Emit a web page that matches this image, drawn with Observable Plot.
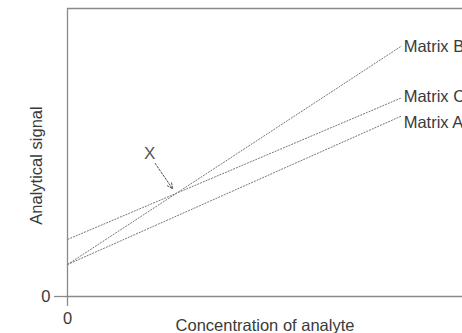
<!DOCTYPE html>
<html>
<head>
<meta charset="utf-8">
<script src="https://cdn.jsdelivr.net/npm/d3@7"></script>
<script src="https://cdn.jsdelivr.net/npm/@observablehq/plot@0.6"></script>
<style>
  html, body { margin: 0; padding: 0; background: #fff; }
  #chart svg { display: block; }
</style>
</head>
<body>
<div id="chart"></div>
<script>
// Data (arbitrary units; axis 0..10 both ways)
const series = ["Matrix B", "Matrix C", "Matrix A"];
const xStart = [0, 0, 0];
const xEnd = [8.46, 8.46, 8.46];
const yStart = [1.11, 1.98, 1.11];
const yEnd = [8.70, 6.90, 6.27];
const labelY = [8.68, 6.94, 6.02];
const xTicks = [0];
const yTicks = [0];
const xTitle = "Concentration of analyte";
const yTitle = "Analytical signal";
const pointerLabel = "X";
const pointerFrom = [2.22, 4.62];
const pointerTo = [2.66, 3.74];
const pointerText = [2.08, 4.96];

const lines = series.map((s, i) => ({
  series: s, x1: xStart[i], y1: yStart[i], x2: xEnd[i], y2: yEnd[i], ly: labelY[i]
}));

const gray = "#8a8a8a";
const textColor = "#3a3a3a";
const fs = 16.5;

const chart = Plot.plot({
  width: 462,
  height: 333,
  marginLeft: 67,
  marginRight: 0,
  marginTop: 8,
  marginBottom: 37,
  style: { fontFamily: "Liberation Sans, Arial, sans-serif", background: "#fff", color: textColor },
  x: { domain: [0, 10] },
  y: { domain: [0, 10] },
  marks: [
    // frame lines
    Plot.ruleY([10], { stroke: gray, strokeWidth: 1.3 }),
    Plot.ruleX([0], { stroke: gray, strokeWidth: 1.3 }),
    Plot.ruleY([0], { stroke: gray, strokeWidth: 1.3 }),
    Plot.axisY({ ticks: yTicks, tickSize: 13, tickPadding: 4, stroke: gray, strokeWidth: 1.3, fontSize: fs, fill: textColor, label: null }),
    Plot.axisX({ ticks: xTicks, tickSize: 10, tickPadding: 6, stroke: gray, strokeWidth: 1.3, fontSize: fs, fill: textColor, label: null }),
    // calibration lines
    Plot.link(lines, {
      x1: "x1", y1: "y1", x2: "x2", y2: "y2",
      stroke: "#777", strokeWidth: 1, strokeDasharray: "2,1"
    }),
    Plot.text(lines, {
      x: "x2", y: "ly", text: "series", textAnchor: "start", dx: 2,
      fontSize: fs, fill: textColor
    }),
    // pointer X
    Plot.arrow([{ x1: pointerFrom[0], y1: pointerFrom[1], x2: pointerTo[0], y2: pointerTo[1] }], {
      x1: "x1", y1: "y1", x2: "x2", y2: "y2",
      stroke: "#555", strokeWidth: 1, strokeDasharray: "2,1.5", headLength: 9, headAngle: 50
    }),
    Plot.text([pointerLabel], {
      x: () => pointerText[0], y: () => pointerText[1], text: d => d,
      fontSize: 17, fill: "#555"
    }),
    // axis titles
    Plot.text([xTitle], {
      frameAnchor: "bottom", text: d => d, textAnchor: "middle", lineAnchor: "middle",
      dy: 29, fontSize: fs, fill: textColor
    }),
    Plot.text([yTitle], {
      frameAnchor: "left", text: d => d, textAnchor: "middle", lineAnchor: "middle",
      dx: -31, dy: 13, rotate: -90, fontSize: fs, fill: textColor
    })
  ]
});

document.getElementById("chart").appendChild(chart);
</script>
</body>
</html>
